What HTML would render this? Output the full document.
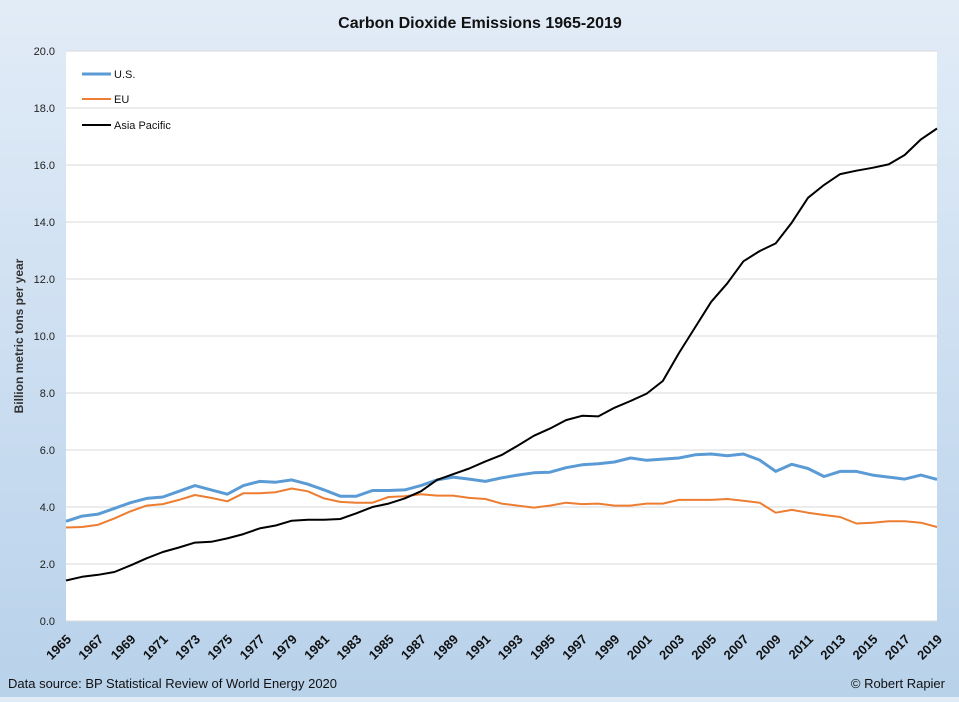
<!DOCTYPE html>
<html><head><meta charset="utf-8"><style>
html,body{margin:0;padding:0}
body{width:959px;height:697px;overflow:hidden;background:linear-gradient(#e2ecf7,#c9dcf0 60%,#b8d2ea);font-family:"Liberation Sans",sans-serif}
</style></head><body>
<svg id="s" width="959" height="697" xmlns="http://www.w3.org/2000/svg" font-family="Liberation Sans, sans-serif">
<rect x="66" y="51" width="871" height="570" fill="#fff"/>
<text x="480" y="28" text-anchor="middle" font-size="16" font-weight="bold" fill="#111">Carbon Dioxide Emissions 1965-2019</text>
<text transform="translate(23,336) rotate(-90)" text-anchor="middle" font-size="12" font-weight="bold" fill="#333">Billion metric tons per year</text>
<text x="8" y="688" font-size="13" fill="#111">Data source: BP Statistical Review of World Energy 2020</text>
<text x="945" y="688" text-anchor="end" font-size="13" fill="#111">© Robert Rapier</text>
<g id="g"></g>
<line x1="82" y1="74" x2="111" y2="74" stroke="#5b9bd5" stroke-width="3"/><text x="114" y="78" font-size="11" fill="#111">U.S.</text>
<line x1="82" y1="99" x2="111" y2="99" stroke="#ed7d31" stroke-width="2"/><text x="114" y="103" font-size="11" fill="#111">EU</text>
<line x1="82" y1="125" x2="111" y2="125" stroke="#000" stroke-width="2"/><text x="114" y="129" font-size="11" fill="#111">Asia Pacific</text>
</svg>
<script>
var us=[3.5,3.68,3.75,3.95,4.15,4.3,4.35,4.55,4.75,4.6,4.45,4.75,4.9,4.87,4.95,4.8,4.6,4.38,4.38,4.58,4.58,4.6,4.75,4.95,5.05,4.98,4.9,5.02,5.12,5.2,5.22,5.38,5.48,5.52,5.58,5.72,5.64,5.68,5.72,5.83,5.86,5.8,5.86,5.65,5.25,5.5,5.35,5.07,5.25,5.25,5.12,5.05,4.98,5.12,4.97];
var eu=[3.28,3.3,3.38,3.6,3.85,4.05,4.1,4.25,4.42,4.32,4.2,4.48,4.48,4.52,4.65,4.55,4.3,4.18,4.15,4.15,4.35,4.38,4.45,4.4,4.4,4.32,4.28,4.12,4.05,3.98,4.05,4.15,4.1,4.12,4.05,4.05,4.12,4.12,4.25,4.25,4.25,4.28,4.22,4.15,3.8,3.9,3.8,3.72,3.65,3.42,3.45,3.5,3.5,3.45,3.3];
var ap=[1.42,1.55,1.62,1.72,1.95,2.2,2.42,2.58,2.75,2.78,2.9,3.05,3.25,3.35,3.52,3.55,3.55,3.58,3.78,4.0,4.12,4.3,4.55,4.95,5.15,5.35,5.6,5.82,6.15,6.5,6.75,7.05,7.2,7.18,7.48,7.72,7.98,8.42,9.4,10.3,11.2,11.85,12.62,12.98,13.25,13.98,14.85,15.3,15.68,15.8,15.9,16.02,16.35,16.9,17.28];
var X=i=>66+i*871/54, Y=v=>621-v*28.5, h='';
for(var k=0;k<=10;k++){var y=Y(2*k);h+='<line x1="66" x2="937" y1="'+y+'" y2="'+y+'" stroke="#d9d9d9"/>';h+='<text x="55" y="'+(y+4)+'" text-anchor="end" font-size="11" fill="#222">'+(2*k).toFixed(1)+'</text>';}
for(var i=0;i<=54;i+=2){var x=X(i);h+='<text transform="translate('+(x+6)+',640) rotate(-45)" text-anchor="end" font-size="13" font-weight="bold" fill="#111">'+(1965+i)+'</text>';}
function p(a,c,w){return '<polyline fill="none" stroke="'+c+'" stroke-width="'+w+'" stroke-linejoin="round" points="'+a.map((v,i)=>X(i).toFixed(1)+','+Y(v).toFixed(1)).join(' ')+'"/>';}
h+=p(us,'#5b9bd5',3)+p(eu,'#ed7d31',2)+p(ap,'#000',2);
document.getElementById('g').innerHTML=h;
</script>
</body></html>
